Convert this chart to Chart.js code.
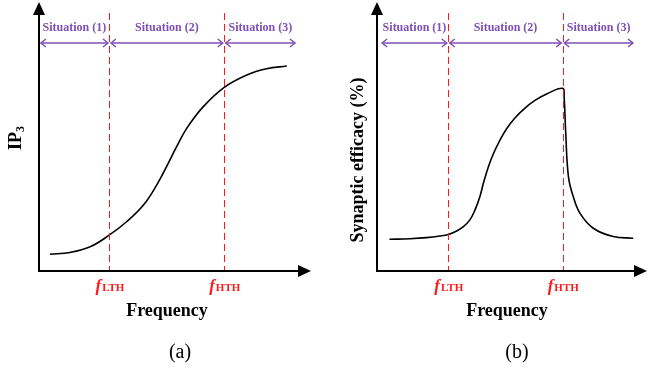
<!DOCTYPE html>
<html>
<head>
<meta charset="utf-8">
<script src="https://cdn.jsdelivr.net/npm/chart.js@4/dist/chart.umd.min.js"></script>
<style>
  body { margin: 0; background: #fff; }
  .wrap { position: relative; width: 648px; height: 372px; }
  .panel { position: absolute; top: 0; width: 324px; height: 372px; }
</style>
</head>
<body>
<div class="wrap">
  <div class="panel" style="left:0"><canvas id="chartA"></canvas></div>
  <div class="panel" style="left:324px"><canvas id="chartB"></canvas></div>
</div>
<script>
// panel (a): IP3 vs frequency (arbitrary units, 0-100)
let curveAX = [4.0, 11.4, 18.8, 25.9, 32.2, 38.4, 43.3, 46.9, 50.6, 54.3, 60.4, 68.1, 76.4, 83.7, 91.1];
let curveAY = [6.2, 6.9, 9.0, 13.4, 18.3, 24.5, 32.0, 38.8, 46.2, 53.0, 61.1, 68.3, 72.9, 75.2, 76.2];
let thresholdsA = [25.9, 68.1];
let rangeA = [0.7, 94.1];

// panel (b): synaptic efficacy vs frequency
let curveBX = [4.6, 12.2, 18.4, 23.3, 26.4, 29.5, 32.0, 34.4, 36.3, 38.1, 39.4, 41.2, 43.1, 45.5, 48.0,
               51.0, 54.5, 58.5, 63.0, 68.8, 69.3, 69.9, 70.9, 72.7, 75.2, 80.1, 87.5, 94.9];
let curveBY = [11.8, 12.0, 12.4, 13.0, 13.6, 14.9, 16.5, 19.0, 22.7, 27.6, 32.6, 38.6, 43.6, 48.6, 52.9,
               56.8, 60.3, 63.4, 65.9, 67.9, 64.8, 51.2, 35.1, 27.6, 21.4, 15.9, 12.8, 12.2];
let thresholdsB = [26.4, 68.8];
let rangeB = [1.9, 94.8];

let situations = ["Situation (1)", "Situation (2)", "Situation (3)"];
let thresholdNames = ["LTH", "HTH"];

const purple = "#7E50B4";
const red = "#FF1A1A";
const serif = "'Liberation Serif', 'Times New Roman', serif";

function arrowHead(ctx, x, y, dir) {
  ctx.beginPath();
  if (dir === "up") {
    ctx.moveTo(x, y);
    ctx.lineTo(x - 6, y + 13);
    ctx.lineTo(x + 6, y + 13);
  } else {
    ctx.moveTo(x, y);
    ctx.lineTo(x - 13, y - 6);
    ctx.lineTo(x - 13, y + 6);
  }
  ctx.closePath();
  ctx.fill();
}

function chevron(ctx, x, y, dir) {
  ctx.beginPath();
  ctx.moveTo(x - dir * 5, y - 4);
  ctx.lineTo(x, y);
  ctx.lineTo(x - dir * 5, y + 4);
  ctx.stroke();
}

function makeDecor(opts) {
  return {
    id: "decor",
    afterDatasetsDraw(chart) {
      let ctx = chart.ctx;
      let area = chart.chartArea;
      let xs = chart.scales.x;
      ctx.save();

      // threshold dashed lines
      ctx.strokeStyle = red;
      ctx.lineWidth = 1;
      ctx.setLineDash([7, 4]);
      opts.thresholds.forEach(t => {
        let px = Math.round(xs.getPixelForValue(t)) + 0.5;
        ctx.beginPath();
        ctx.moveTo(px, area.top + 11);
        ctx.lineTo(px, area.bottom);
        ctx.stroke();
      });
      ctx.setLineDash([]);

      // situation arrows
      let bounds = [opts.range[0], opts.thresholds[0], opts.thresholds[1], opts.range[1]];
      let ay = area.top + 41;
      ctx.strokeStyle = purple;
      ctx.fillStyle = purple;
      ctx.lineWidth = 1.5;
      ctx.font = "bold 12px " + serif;
      ctx.textAlign = "center";
      ctx.textBaseline = "middle";
      for (let i = 0; i < 3; i++) {
        let x1 = xs.getPixelForValue(bounds[i]) + (i === 0 ? 0 : 1.5);
        let x2 = xs.getPixelForValue(bounds[i + 1]) - (i === 2 ? 0 : 1.5);
        ctx.beginPath();
        ctx.moveTo(x1, ay);
        ctx.lineTo(x2, ay);
        ctx.stroke();
        chevron(ctx, x1, ay, -1);
        chevron(ctx, x2, ay, 1);
        ctx.fillText(situations[i], (x1 + x2) / 2, area.top + 26);
      }

      // axes
      ctx.strokeStyle = "#000";
      ctx.fillStyle = "#000";
      ctx.lineWidth = 2;
      ctx.beginPath();
      ctx.moveTo(area.left, area.top + 10);
      ctx.lineTo(area.left, area.bottom);
      ctx.lineTo(area.right - 10, area.bottom);
      ctx.stroke();
      arrowHead(ctx, area.left, area.top, "up");
      arrowHead(ctx, area.right, area.bottom, "right");

      // threshold labels
      ctx.fillStyle = red;
      ctx.textBaseline = "alphabetic";
      opts.thresholds.forEach((t, i) => {
        let px = xs.getPixelForValue(t);
        ctx.font = "italic bold 17px " + serif;
        let fw = ctx.measureText("f").width;
        ctx.font = "bold 11px " + serif;
        let sw = ctx.measureText(thresholdNames[i]).width;
        let start = px - (fw + sw) / 2;
        ctx.textAlign = "left";
        ctx.font = "italic bold 17px " + serif;
        ctx.fillText("f", start, area.bottom + 20);
        ctx.font = "bold 11px " + serif;
        ctx.fillText(thresholdNames[i], start + fw + 1, area.bottom + 20);
      });

      // axis titles and panel label
      ctx.fillStyle = "#000";
      ctx.textAlign = "center";
      ctx.textBaseline = "middle";
      ctx.font = "bold 18px " + serif;
      ctx.fillText("Frequency", opts.freqX, 311);
      ctx.font = "20px " + serif;
      ctx.fillText(opts.panel, opts.panelX, 353);

      ctx.save();
      ctx.translate(opts.yTitleX, opts.yTitleY);
      ctx.rotate(-Math.PI / 2);
      ctx.font = "bold 18px " + serif;
      if (opts.yTitleSub) {
        let mw = ctx.measureText(opts.yTitle).width;
        ctx.font = "bold 12px " + serif;
        let sw = ctx.measureText(opts.yTitleSub).width;
        ctx.textAlign = "left";
        ctx.font = "bold 18px " + serif;
        ctx.fillText(opts.yTitle, -(mw + sw) / 2, 0);
        ctx.font = "bold 12px " + serif;
        ctx.fillText(opts.yTitleSub, -(mw + sw) / 2 + mw, 5);
      } else {
        ctx.fillText(opts.yTitle, 0, 0);
      }
      ctx.restore();

      ctx.restore();
    }
  };
}

function makeChart(id, xs, ys, padding, decor) {
  let points = xs.map((x, i) => ({ x: x, y: ys[i] }));
  return new Chart(document.getElementById(id).getContext("2d"), {
    type: "line",
    data: {
      datasets: [{
        data: points,
        borderColor: "#000",
        borderWidth: 1.6,
        pointRadius: 0,
        fill: false,
        tension: 0.4
      }]
    },
    options: {
      responsive: false,
      animation: false,
      layout: { padding: padding },
      plugins: { legend: { display: false }, tooltip: { enabled: false } },
      scales: {
        x: { type: "linear", min: 0, max: 100, display: false },
        y: { type: "linear", min: 0, max: 100, display: false }
      }
    },
    plugins: [makeDecor(decor)]
  });
}

let canvasA = document.getElementById("chartA");
let canvasB = document.getElementById("chartB");
[canvasA, canvasB].forEach(c => { c.width = 324; c.height = 372; c.style.width = "324px"; c.style.height = "372px"; });

makeChart("chartA", curveAX, curveAY, { left: 39, right: 13, top: 2, bottom: 101 }, {
  thresholds: thresholdsA, range: rangeA, panel: "(a)", panelX: 180, freqX: 167,
  yTitle: "IP", yTitleSub: "3", yTitleX: 16, yTitleY: 138
});
makeChart("chartB", curveBX, curveBY, { left: 53, right: 1, top: 2, bottom: 101 }, {
  thresholds: thresholdsB, range: rangeB, panel: "(b)", panelX: 193, freqX: 183,
  yTitle: "Synaptic efficacy (%)", yTitleX: 34, yTitleY: 160
});
</script>
</body>
</html>
